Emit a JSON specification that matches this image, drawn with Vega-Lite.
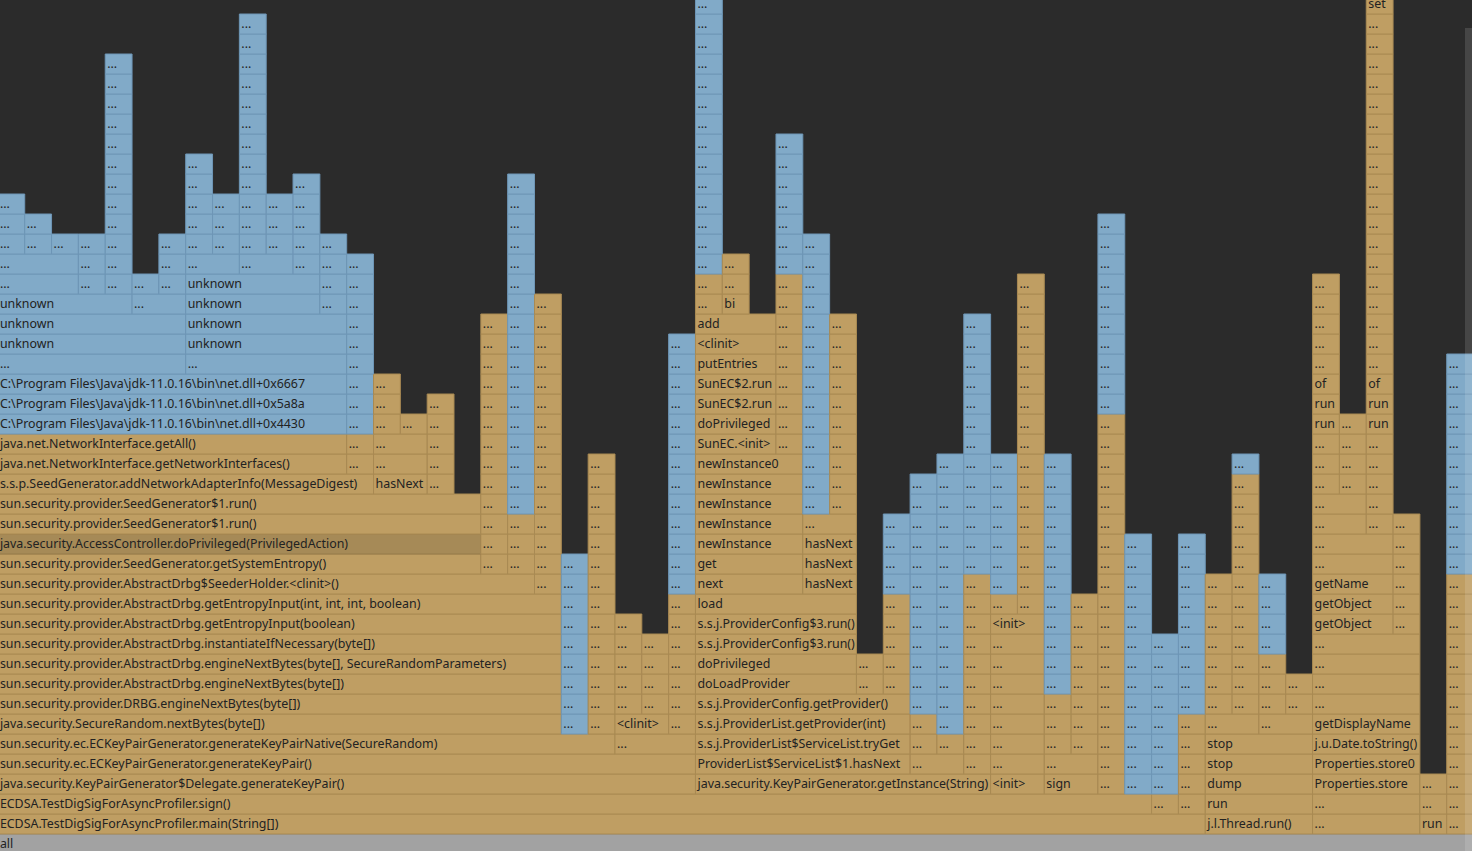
{
  "$schema": "https://vega.github.io/schema/vega-lite/v6.json",
  "width": 1472,
  "height": 851,
  "autosize": {"type": "none"},
  "padding": 0,
  "background": "#2b2b2b",
  "config": {"view": {"stroke": null}},
  "datasets": {
    "f": [
      {"l":0,"a":0,"b":55,"n":"all","t":"r"},
      {"l":1,"a":0,"b":45,"n":"ECDSA.TestDigSigForAsyncProfiler.main(String[])","t":"j"},
      {"l":1,"a":45,"b":49,"n":"j.l.Thread.run()","t":"j"},
      {"l":1,"a":49,"b":53,"n":"...","t":"j"},
      {"l":1,"a":53,"b":54,"n":"run","t":"j"},
      {"l":1,"a":54,"b":55,"n":"...","t":"j"},
      {"l":2,"a":0,"b":43,"n":"ECDSA.TestDigSigForAsyncProfiler.sign()","t":"j"},
      {"l":2,"a":43,"b":44,"n":"...","t":"j"},
      {"l":2,"a":44,"b":45,"n":"...","t":"j"},
      {"l":2,"a":45,"b":49,"n":"run","t":"j"},
      {"l":2,"a":49,"b":53,"n":"...","t":"j"},
      {"l":2,"a":53,"b":54,"n":"...","t":"j"},
      {"l":2,"a":54,"b":55,"n":"...","t":"j"},
      {"l":3,"a":0,"b":26,"n":"java.security.KeyPairGenerator$Delegate.generateKeyPair()","t":"j"},
      {"l":3,"a":26,"b":37,"n":"java.security.KeyPairGenerator.getInstance(String)","t":"j"},
      {"l":3,"a":37,"b":39,"n":"<init>","t":"j"},
      {"l":3,"a":39,"b":41,"n":"sign","t":"j"},
      {"l":3,"a":41,"b":42,"n":"...","t":"j"},
      {"l":3,"a":42,"b":43,"n":"...","t":"n"},
      {"l":3,"a":43,"b":44,"n":"...","t":"n"},
      {"l":3,"a":44,"b":45,"n":"...","t":"j"},
      {"l":3,"a":45,"b":49,"n":"dump","t":"j"},
      {"l":3,"a":49,"b":53,"n":"Properties.store","t":"j"},
      {"l":3,"a":53,"b":54,"n":"...","t":"j"},
      {"l":3,"a":54,"b":55,"n":"...","t":"j"},
      {"l":4,"a":0,"b":26,"n":"sun.security.ec.ECKeyPairGenerator.generateKeyPair()","t":"j"},
      {"l":4,"a":26,"b":34,"n":"ProviderList$ServiceList$1.hasNext","t":"j"},
      {"l":4,"a":34,"b":36,"n":"...","t":"j"},
      {"l":4,"a":36,"b":37,"n":"...","t":"j"},
      {"l":4,"a":37,"b":39,"n":"...","t":"j"},
      {"l":4,"a":39,"b":41,"n":"...","t":"j"},
      {"l":4,"a":41,"b":42,"n":"...","t":"j"},
      {"l":4,"a":42,"b":43,"n":"...","t":"n"},
      {"l":4,"a":43,"b":44,"n":"...","t":"n"},
      {"l":4,"a":44,"b":45,"n":"...","t":"j"},
      {"l":4,"a":45,"b":49,"n":"stop","t":"j"},
      {"l":4,"a":49,"b":53,"n":"Properties.store0","t":"j"},
      {"l":4,"a":54,"b":55,"n":"...","t":"j"},
      {"l":5,"a":0,"b":23,"n":"sun.security.ec.ECKeyPairGenerator.generateKeyPairNative(SecureRandom)","t":"j"},
      {"l":5,"a":23,"b":26,"n":"...","t":"j"},
      {"l":5,"a":26,"b":34,"n":"s.s.j.ProviderList$ServiceList.tryGet","t":"j"},
      {"l":5,"a":34,"b":35,"n":"...","t":"j"},
      {"l":5,"a":35,"b":36,"n":"...","t":"j"},
      {"l":5,"a":36,"b":37,"n":"...","t":"j"},
      {"l":5,"a":37,"b":39,"n":"...","t":"j"},
      {"l":5,"a":39,"b":40,"n":"...","t":"j"},
      {"l":5,"a":40,"b":41,"n":"...","t":"j"},
      {"l":5,"a":41,"b":42,"n":"...","t":"j"},
      {"l":5,"a":42,"b":43,"n":"...","t":"n"},
      {"l":5,"a":43,"b":44,"n":"...","t":"n"},
      {"l":5,"a":44,"b":45,"n":"...","t":"j"},
      {"l":5,"a":45,"b":49,"n":"stop","t":"j"},
      {"l":5,"a":49,"b":53,"n":"j.u.Date.toString()","t":"j"},
      {"l":5,"a":54,"b":55,"n":"...","t":"j"},
      {"l":6,"a":0,"b":21,"n":"java.security.SecureRandom.nextBytes(byte[])","t":"j"},
      {"l":6,"a":21,"b":22,"n":"...","t":"n"},
      {"l":6,"a":22,"b":23,"n":"...","t":"j"},
      {"l":6,"a":23,"b":25,"n":"<clinit>","t":"j"},
      {"l":6,"a":25,"b":26,"n":"...","t":"j"},
      {"l":6,"a":26,"b":34,"n":"s.s.j.ProviderList.getProvider(int)","t":"j"},
      {"l":6,"a":34,"b":35,"n":"...","t":"j"},
      {"l":6,"a":35,"b":36,"n":"...","t":"n"},
      {"l":6,"a":36,"b":37,"n":"...","t":"j"},
      {"l":6,"a":37,"b":39,"n":"...","t":"j"},
      {"l":6,"a":39,"b":40,"n":"...","t":"j"},
      {"l":6,"a":40,"b":41,"n":"...","t":"j"},
      {"l":6,"a":41,"b":42,"n":"...","t":"j"},
      {"l":6,"a":42,"b":43,"n":"...","t":"n"},
      {"l":6,"a":43,"b":44,"n":"...","t":"n"},
      {"l":6,"a":44,"b":45,"n":"...","t":"j"},
      {"l":6,"a":45,"b":47,"n":"...","t":"j"},
      {"l":6,"a":47,"b":49,"n":"...","t":"j"},
      {"l":6,"a":49,"b":53,"n":"getDisplayName","t":"j"},
      {"l":6,"a":54,"b":55,"n":"...","t":"j"},
      {"l":7,"a":0,"b":21,"n":"sun.security.provider.DRBG.engineNextBytes(byte[])","t":"j"},
      {"l":7,"a":21,"b":22,"n":"...","t":"n"},
      {"l":7,"a":22,"b":23,"n":"...","t":"j"},
      {"l":7,"a":23,"b":24,"n":"...","t":"j"},
      {"l":7,"a":24,"b":25,"n":"...","t":"j"},
      {"l":7,"a":25,"b":26,"n":"...","t":"j"},
      {"l":7,"a":26,"b":34,"n":"s.s.j.ProviderConfig.getProvider()","t":"j"},
      {"l":7,"a":34,"b":35,"n":"...","t":"n"},
      {"l":7,"a":35,"b":36,"n":"...","t":"n"},
      {"l":7,"a":36,"b":37,"n":"...","t":"j"},
      {"l":7,"a":37,"b":39,"n":"...","t":"j"},
      {"l":7,"a":39,"b":40,"n":"...","t":"j"},
      {"l":7,"a":40,"b":41,"n":"...","t":"j"},
      {"l":7,"a":41,"b":42,"n":"...","t":"j"},
      {"l":7,"a":42,"b":43,"n":"...","t":"n"},
      {"l":7,"a":43,"b":44,"n":"...","t":"n"},
      {"l":7,"a":44,"b":45,"n":"...","t":"n"},
      {"l":7,"a":45,"b":46,"n":"...","t":"j"},
      {"l":7,"a":46,"b":47,"n":"...","t":"j"},
      {"l":7,"a":47,"b":48,"n":"...","t":"j"},
      {"l":7,"a":48,"b":49,"n":"...","t":"j"},
      {"l":7,"a":49,"b":53,"n":"...","t":"j"},
      {"l":7,"a":54,"b":55,"n":"...","t":"j"},
      {"l":8,"a":0,"b":21,"n":"sun.security.provider.AbstractDrbg.engineNextBytes(byte[])","t":"j"},
      {"l":8,"a":21,"b":22,"n":"...","t":"n"},
      {"l":8,"a":22,"b":23,"n":"...","t":"j"},
      {"l":8,"a":23,"b":24,"n":"...","t":"j"},
      {"l":8,"a":24,"b":25,"n":"...","t":"j"},
      {"l":8,"a":25,"b":26,"n":"...","t":"j"},
      {"l":8,"a":26,"b":32,"n":"doLoadProvider","t":"j"},
      {"l":8,"a":32,"b":33,"n":"...","t":"j"},
      {"l":8,"a":33,"b":34,"n":"...","t":"j"},
      {"l":8,"a":34,"b":35,"n":"...","t":"n"},
      {"l":8,"a":35,"b":36,"n":"...","t":"n"},
      {"l":8,"a":36,"b":37,"n":"...","t":"j"},
      {"l":8,"a":37,"b":39,"n":"...","t":"j"},
      {"l":8,"a":39,"b":40,"n":"...","t":"n"},
      {"l":8,"a":40,"b":41,"n":"...","t":"j"},
      {"l":8,"a":41,"b":42,"n":"...","t":"j"},
      {"l":8,"a":42,"b":43,"n":"...","t":"n"},
      {"l":8,"a":43,"b":44,"n":"...","t":"n"},
      {"l":8,"a":44,"b":45,"n":"...","t":"n"},
      {"l":8,"a":45,"b":46,"n":"...","t":"j"},
      {"l":8,"a":46,"b":47,"n":"...","t":"j"},
      {"l":8,"a":47,"b":48,"n":"...","t":"j"},
      {"l":8,"a":48,"b":49,"n":"...","t":"j"},
      {"l":8,"a":49,"b":53,"n":"...","t":"j"},
      {"l":8,"a":54,"b":55,"n":"...","t":"j"},
      {"l":9,"a":0,"b":21,"n":"sun.security.provider.AbstractDrbg.engineNextBytes(byte[], SecureRandomParameters)","t":"j"},
      {"l":9,"a":21,"b":22,"n":"...","t":"n"},
      {"l":9,"a":22,"b":23,"n":"...","t":"j"},
      {"l":9,"a":23,"b":24,"n":"...","t":"j"},
      {"l":9,"a":24,"b":25,"n":"...","t":"j"},
      {"l":9,"a":25,"b":26,"n":"...","t":"j"},
      {"l":9,"a":26,"b":32,"n":"doPrivileged","t":"j"},
      {"l":9,"a":32,"b":33,"n":"...","t":"j"},
      {"l":9,"a":33,"b":34,"n":"...","t":"j"},
      {"l":9,"a":34,"b":35,"n":"...","t":"n"},
      {"l":9,"a":35,"b":36,"n":"...","t":"n"},
      {"l":9,"a":36,"b":37,"n":"...","t":"j"},
      {"l":9,"a":37,"b":39,"n":"...","t":"j"},
      {"l":9,"a":39,"b":40,"n":"...","t":"n"},
      {"l":9,"a":40,"b":41,"n":"...","t":"j"},
      {"l":9,"a":41,"b":42,"n":"...","t":"j"},
      {"l":9,"a":42,"b":43,"n":"...","t":"n"},
      {"l":9,"a":43,"b":44,"n":"...","t":"n"},
      {"l":9,"a":44,"b":45,"n":"...","t":"n"},
      {"l":9,"a":45,"b":46,"n":"...","t":"j"},
      {"l":9,"a":46,"b":47,"n":"...","t":"j"},
      {"l":9,"a":47,"b":48,"n":"...","t":"j"},
      {"l":9,"a":49,"b":53,"n":"...","t":"j"},
      {"l":9,"a":54,"b":55,"n":"...","t":"j"},
      {"l":10,"a":0,"b":21,"n":"sun.security.provider.AbstractDrbg.instantiateIfNecessary(byte[])","t":"j"},
      {"l":10,"a":21,"b":22,"n":"...","t":"n"},
      {"l":10,"a":22,"b":23,"n":"...","t":"j"},
      {"l":10,"a":23,"b":24,"n":"...","t":"j"},
      {"l":10,"a":24,"b":25,"n":"...","t":"j"},
      {"l":10,"a":25,"b":26,"n":"...","t":"j"},
      {"l":10,"a":26,"b":32,"n":"s.s.j.ProviderConfig$3.run()","t":"j"},
      {"l":10,"a":33,"b":34,"n":"...","t":"j"},
      {"l":10,"a":34,"b":35,"n":"...","t":"n"},
      {"l":10,"a":35,"b":36,"n":"...","t":"n"},
      {"l":10,"a":36,"b":37,"n":"...","t":"j"},
      {"l":10,"a":37,"b":39,"n":"...","t":"j"},
      {"l":10,"a":39,"b":40,"n":"...","t":"n"},
      {"l":10,"a":40,"b":41,"n":"...","t":"j"},
      {"l":10,"a":41,"b":42,"n":"...","t":"j"},
      {"l":10,"a":42,"b":43,"n":"...","t":"n"},
      {"l":10,"a":43,"b":44,"n":"...","t":"n"},
      {"l":10,"a":44,"b":45,"n":"...","t":"n"},
      {"l":10,"a":45,"b":46,"n":"...","t":"j"},
      {"l":10,"a":46,"b":47,"n":"...","t":"j"},
      {"l":10,"a":47,"b":48,"n":"...","t":"n"},
      {"l":10,"a":49,"b":53,"n":"...","t":"j"},
      {"l":10,"a":54,"b":55,"n":"...","t":"j"},
      {"l":11,"a":0,"b":21,"n":"sun.security.provider.AbstractDrbg.getEntropyInput(boolean)","t":"j"},
      {"l":11,"a":21,"b":22,"n":"...","t":"n"},
      {"l":11,"a":22,"b":23,"n":"...","t":"j"},
      {"l":11,"a":23,"b":24,"n":"...","t":"j"},
      {"l":11,"a":25,"b":26,"n":"...","t":"j"},
      {"l":11,"a":26,"b":32,"n":"s.s.j.ProviderConfig$3.run()","t":"j"},
      {"l":11,"a":33,"b":34,"n":"...","t":"j"},
      {"l":11,"a":34,"b":35,"n":"...","t":"n"},
      {"l":11,"a":35,"b":36,"n":"...","t":"n"},
      {"l":11,"a":36,"b":37,"n":"...","t":"j"},
      {"l":11,"a":37,"b":39,"n":"<init>","t":"j"},
      {"l":11,"a":39,"b":40,"n":"...","t":"n"},
      {"l":11,"a":40,"b":41,"n":"...","t":"j"},
      {"l":11,"a":41,"b":42,"n":"...","t":"j"},
      {"l":11,"a":42,"b":43,"n":"...","t":"n"},
      {"l":11,"a":44,"b":45,"n":"...","t":"n"},
      {"l":11,"a":45,"b":46,"n":"...","t":"j"},
      {"l":11,"a":46,"b":47,"n":"...","t":"j"},
      {"l":11,"a":47,"b":48,"n":"...","t":"n"},
      {"l":11,"a":49,"b":52,"n":"getObject","t":"j"},
      {"l":11,"a":52,"b":53,"n":"...","t":"j"},
      {"l":11,"a":54,"b":55,"n":"...","t":"j"},
      {"l":12,"a":0,"b":21,"n":"sun.security.provider.AbstractDrbg.getEntropyInput(int, int, int, boolean)","t":"j"},
      {"l":12,"a":21,"b":22,"n":"...","t":"n"},
      {"l":12,"a":22,"b":23,"n":"...","t":"j"},
      {"l":12,"a":25,"b":26,"n":"...","t":"j"},
      {"l":12,"a":26,"b":32,"n":"load","t":"j"},
      {"l":12,"a":33,"b":34,"n":"...","t":"j"},
      {"l":12,"a":34,"b":35,"n":"...","t":"n"},
      {"l":12,"a":35,"b":36,"n":"...","t":"n"},
      {"l":12,"a":36,"b":37,"n":"...","t":"j"},
      {"l":12,"a":37,"b":38,"n":"...","t":"j"},
      {"l":12,"a":38,"b":39,"n":"...","t":"j"},
      {"l":12,"a":39,"b":40,"n":"...","t":"n"},
      {"l":12,"a":40,"b":41,"n":"...","t":"j"},
      {"l":12,"a":41,"b":42,"n":"...","t":"j"},
      {"l":12,"a":42,"b":43,"n":"...","t":"n"},
      {"l":12,"a":44,"b":45,"n":"...","t":"n"},
      {"l":12,"a":45,"b":46,"n":"...","t":"j"},
      {"l":12,"a":46,"b":47,"n":"...","t":"j"},
      {"l":12,"a":47,"b":48,"n":"...","t":"n"},
      {"l":12,"a":49,"b":52,"n":"getObject","t":"j"},
      {"l":12,"a":52,"b":53,"n":"...","t":"j"},
      {"l":12,"a":54,"b":55,"n":"...","t":"j"},
      {"l":13,"a":0,"b":20,"n":"sun.security.provider.AbstractDrbg$SeederHolder.<clinit>()","t":"j"},
      {"l":13,"a":20,"b":21,"n":"...","t":"j"},
      {"l":13,"a":21,"b":22,"n":"...","t":"n"},
      {"l":13,"a":22,"b":23,"n":"...","t":"j"},
      {"l":13,"a":25,"b":26,"n":"...","t":"n"},
      {"l":13,"a":26,"b":30,"n":"next","t":"j"},
      {"l":13,"a":30,"b":32,"n":"hasNext","t":"j"},
      {"l":13,"a":33,"b":34,"n":"...","t":"n"},
      {"l":13,"a":34,"b":35,"n":"...","t":"n"},
      {"l":13,"a":35,"b":36,"n":"...","t":"n"},
      {"l":13,"a":36,"b":37,"n":"...","t":"j"},
      {"l":13,"a":37,"b":38,"n":"...","t":"n"},
      {"l":13,"a":38,"b":39,"n":"...","t":"j"},
      {"l":13,"a":39,"b":40,"n":"...","t":"n"},
      {"l":13,"a":41,"b":42,"n":"...","t":"j"},
      {"l":13,"a":42,"b":43,"n":"...","t":"n"},
      {"l":13,"a":44,"b":45,"n":"...","t":"n"},
      {"l":13,"a":45,"b":46,"n":"...","t":"j"},
      {"l":13,"a":46,"b":47,"n":"...","t":"j"},
      {"l":13,"a":47,"b":48,"n":"...","t":"n"},
      {"l":13,"a":49,"b":52,"n":"getName","t":"j"},
      {"l":13,"a":52,"b":53,"n":"...","t":"j"},
      {"l":13,"a":54,"b":55,"n":"...","t":"j"},
      {"l":14,"a":0,"b":18,"n":"sun.security.provider.SeedGenerator.getSystemEntropy()","t":"j"},
      {"l":14,"a":18,"b":19,"n":"...","t":"j"},
      {"l":14,"a":19,"b":20,"n":"...","t":"j"},
      {"l":14,"a":20,"b":21,"n":"...","t":"j"},
      {"l":14,"a":21,"b":22,"n":"...","t":"n"},
      {"l":14,"a":22,"b":23,"n":"...","t":"j"},
      {"l":14,"a":25,"b":26,"n":"...","t":"n"},
      {"l":14,"a":26,"b":30,"n":"get","t":"j"},
      {"l":14,"a":30,"b":32,"n":"hasNext","t":"j"},
      {"l":14,"a":33,"b":34,"n":"...","t":"n"},
      {"l":14,"a":34,"b":35,"n":"...","t":"n"},
      {"l":14,"a":35,"b":36,"n":"...","t":"n"},
      {"l":14,"a":36,"b":37,"n":"...","t":"n"},
      {"l":14,"a":37,"b":38,"n":"...","t":"n"},
      {"l":14,"a":38,"b":39,"n":"...","t":"j"},
      {"l":14,"a":39,"b":40,"n":"...","t":"n"},
      {"l":14,"a":41,"b":42,"n":"...","t":"j"},
      {"l":14,"a":42,"b":43,"n":"...","t":"n"},
      {"l":14,"a":44,"b":45,"n":"...","t":"n"},
      {"l":14,"a":46,"b":47,"n":"...","t":"j"},
      {"l":14,"a":49,"b":52,"n":"...","t":"j"},
      {"l":14,"a":52,"b":53,"n":"...","t":"j"},
      {"l":14,"a":54,"b":55,"n":"...","t":"n"},
      {"l":15,"a":0,"b":18,"n":"java.security.AccessController.doPrivileged(PrivilegedAction)","t":"h"},
      {"l":15,"a":18,"b":19,"n":"...","t":"j"},
      {"l":15,"a":19,"b":20,"n":"...","t":"j"},
      {"l":15,"a":20,"b":21,"n":"...","t":"j"},
      {"l":15,"a":22,"b":23,"n":"...","t":"j"},
      {"l":15,"a":25,"b":26,"n":"...","t":"n"},
      {"l":15,"a":26,"b":30,"n":"newInstance","t":"j"},
      {"l":15,"a":30,"b":32,"n":"hasNext","t":"j"},
      {"l":15,"a":33,"b":34,"n":"...","t":"n"},
      {"l":15,"a":34,"b":35,"n":"...","t":"n"},
      {"l":15,"a":35,"b":36,"n":"...","t":"n"},
      {"l":15,"a":36,"b":37,"n":"...","t":"n"},
      {"l":15,"a":37,"b":38,"n":"...","t":"n"},
      {"l":15,"a":38,"b":39,"n":"...","t":"j"},
      {"l":15,"a":39,"b":40,"n":"...","t":"n"},
      {"l":15,"a":41,"b":42,"n":"...","t":"j"},
      {"l":15,"a":42,"b":43,"n":"...","t":"n"},
      {"l":15,"a":44,"b":45,"n":"...","t":"n"},
      {"l":15,"a":46,"b":47,"n":"...","t":"j"},
      {"l":15,"a":49,"b":52,"n":"...","t":"j"},
      {"l":15,"a":52,"b":53,"n":"...","t":"j"},
      {"l":15,"a":54,"b":55,"n":"...","t":"n"},
      {"l":16,"a":0,"b":18,"n":"sun.security.provider.SeedGenerator$1.run()","t":"j"},
      {"l":16,"a":18,"b":19,"n":"...","t":"j"},
      {"l":16,"a":19,"b":20,"n":"...","t":"j"},
      {"l":16,"a":20,"b":21,"n":"...","t":"j"},
      {"l":16,"a":22,"b":23,"n":"...","t":"j"},
      {"l":16,"a":25,"b":26,"n":"...","t":"n"},
      {"l":16,"a":26,"b":30,"n":"newInstance","t":"j"},
      {"l":16,"a":30,"b":32,"n":"...","t":"j"},
      {"l":16,"a":33,"b":34,"n":"...","t":"n"},
      {"l":16,"a":34,"b":35,"n":"...","t":"n"},
      {"l":16,"a":35,"b":36,"n":"...","t":"n"},
      {"l":16,"a":36,"b":37,"n":"...","t":"n"},
      {"l":16,"a":37,"b":38,"n":"...","t":"n"},
      {"l":16,"a":38,"b":39,"n":"...","t":"j"},
      {"l":16,"a":39,"b":40,"n":"...","t":"n"},
      {"l":16,"a":41,"b":42,"n":"...","t":"j"},
      {"l":16,"a":46,"b":47,"n":"...","t":"j"},
      {"l":16,"a":49,"b":51,"n":"...","t":"j"},
      {"l":16,"a":51,"b":52,"n":"...","t":"j"},
      {"l":16,"a":52,"b":53,"n":"...","t":"j"},
      {"l":16,"a":54,"b":55,"n":"...","t":"n"},
      {"l":17,"a":0,"b":18,"n":"sun.security.provider.SeedGenerator$1.run()","t":"j"},
      {"l":17,"a":18,"b":19,"n":"...","t":"j"},
      {"l":17,"a":19,"b":20,"n":"...","t":"n"},
      {"l":17,"a":20,"b":21,"n":"...","t":"j"},
      {"l":17,"a":22,"b":23,"n":"...","t":"j"},
      {"l":17,"a":25,"b":26,"n":"...","t":"n"},
      {"l":17,"a":26,"b":30,"n":"newInstance","t":"j"},
      {"l":17,"a":30,"b":31,"n":"...","t":"n"},
      {"l":17,"a":31,"b":32,"n":"...","t":"j"},
      {"l":17,"a":34,"b":35,"n":"...","t":"n"},
      {"l":17,"a":35,"b":36,"n":"...","t":"n"},
      {"l":17,"a":36,"b":37,"n":"...","t":"n"},
      {"l":17,"a":37,"b":38,"n":"...","t":"n"},
      {"l":17,"a":38,"b":39,"n":"...","t":"j"},
      {"l":17,"a":39,"b":40,"n":"...","t":"n"},
      {"l":17,"a":41,"b":42,"n":"...","t":"j"},
      {"l":17,"a":46,"b":47,"n":"...","t":"j"},
      {"l":17,"a":49,"b":51,"n":"...","t":"j"},
      {"l":17,"a":51,"b":52,"n":"...","t":"j"},
      {"l":17,"a":54,"b":55,"n":"...","t":"n"},
      {"l":18,"a":0,"b":14,"n":"s.s.p.SeedGenerator.addNetworkAdapterInfo(MessageDigest)","t":"j"},
      {"l":18,"a":14,"b":16,"n":"hasNext","t":"j"},
      {"l":18,"a":16,"b":17,"n":"...","t":"j"},
      {"l":18,"a":18,"b":19,"n":"...","t":"j"},
      {"l":18,"a":19,"b":20,"n":"...","t":"n"},
      {"l":18,"a":20,"b":21,"n":"...","t":"j"},
      {"l":18,"a":22,"b":23,"n":"...","t":"j"},
      {"l":18,"a":25,"b":26,"n":"...","t":"n"},
      {"l":18,"a":26,"b":30,"n":"newInstance","t":"j"},
      {"l":18,"a":30,"b":31,"n":"...","t":"n"},
      {"l":18,"a":31,"b":32,"n":"...","t":"j"},
      {"l":18,"a":34,"b":35,"n":"...","t":"n"},
      {"l":18,"a":35,"b":36,"n":"...","t":"n"},
      {"l":18,"a":36,"b":37,"n":"...","t":"n"},
      {"l":18,"a":37,"b":38,"n":"...","t":"n"},
      {"l":18,"a":38,"b":39,"n":"...","t":"j"},
      {"l":18,"a":39,"b":40,"n":"...","t":"n"},
      {"l":18,"a":41,"b":42,"n":"...","t":"j"},
      {"l":18,"a":46,"b":47,"n":"...","t":"j"},
      {"l":18,"a":49,"b":50,"n":"...","t":"j"},
      {"l":18,"a":50,"b":51,"n":"...","t":"j"},
      {"l":18,"a":51,"b":52,"n":"...","t":"j"},
      {"l":18,"a":54,"b":55,"n":"...","t":"n"},
      {"l":19,"a":0,"b":13,"n":"java.net.NetworkInterface.getNetworkInterfaces()","t":"j"},
      {"l":19,"a":13,"b":14,"n":"...","t":"j"},
      {"l":19,"a":14,"b":16,"n":"...","t":"j"},
      {"l":19,"a":16,"b":17,"n":"...","t":"j"},
      {"l":19,"a":18,"b":19,"n":"...","t":"j"},
      {"l":19,"a":19,"b":20,"n":"...","t":"n"},
      {"l":19,"a":20,"b":21,"n":"...","t":"j"},
      {"l":19,"a":22,"b":23,"n":"...","t":"j"},
      {"l":19,"a":25,"b":26,"n":"...","t":"n"},
      {"l":19,"a":26,"b":30,"n":"newInstance0","t":"j"},
      {"l":19,"a":30,"b":31,"n":"...","t":"n"},
      {"l":19,"a":31,"b":32,"n":"...","t":"j"},
      {"l":19,"a":35,"b":36,"n":"...","t":"n"},
      {"l":19,"a":36,"b":37,"n":"...","t":"n"},
      {"l":19,"a":37,"b":38,"n":"...","t":"n"},
      {"l":19,"a":38,"b":39,"n":"...","t":"j"},
      {"l":19,"a":39,"b":40,"n":"...","t":"n"},
      {"l":19,"a":41,"b":42,"n":"...","t":"j"},
      {"l":19,"a":46,"b":47,"n":"...","t":"n"},
      {"l":19,"a":49,"b":50,"n":"...","t":"j"},
      {"l":19,"a":50,"b":51,"n":"...","t":"j"},
      {"l":19,"a":51,"b":52,"n":"...","t":"j"},
      {"l":19,"a":54,"b":55,"n":"...","t":"n"},
      {"l":20,"a":0,"b":13,"n":"java.net.NetworkInterface.getAll()","t":"j"},
      {"l":20,"a":13,"b":14,"n":"...","t":"j"},
      {"l":20,"a":14,"b":16,"n":"...","t":"j"},
      {"l":20,"a":16,"b":17,"n":"...","t":"j"},
      {"l":20,"a":18,"b":19,"n":"...","t":"j"},
      {"l":20,"a":19,"b":20,"n":"...","t":"n"},
      {"l":20,"a":20,"b":21,"n":"...","t":"j"},
      {"l":20,"a":25,"b":26,"n":"...","t":"n"},
      {"l":20,"a":26,"b":29,"n":"SunEC.<init>","t":"j"},
      {"l":20,"a":29,"b":30,"n":"...","t":"j"},
      {"l":20,"a":30,"b":31,"n":"...","t":"n"},
      {"l":20,"a":31,"b":32,"n":"...","t":"j"},
      {"l":20,"a":36,"b":37,"n":"...","t":"n"},
      {"l":20,"a":38,"b":39,"n":"...","t":"j"},
      {"l":20,"a":41,"b":42,"n":"...","t":"j"},
      {"l":20,"a":49,"b":50,"n":"...","t":"j"},
      {"l":20,"a":50,"b":51,"n":"...","t":"j"},
      {"l":20,"a":51,"b":52,"n":"...","t":"j"},
      {"l":20,"a":54,"b":55,"n":"...","t":"n"},
      {"l":21,"a":0,"b":13,"n":"C:\\Program Files\\Java\\jdk-11.0.16\\bin\\net.dll+0x4430","t":"n"},
      {"l":21,"a":13,"b":14,"n":"...","t":"n"},
      {"l":21,"a":14,"b":15,"n":"...","t":"j"},
      {"l":21,"a":15,"b":16,"n":"...","t":"j"},
      {"l":21,"a":16,"b":17,"n":"...","t":"j"},
      {"l":21,"a":18,"b":19,"n":"...","t":"j"},
      {"l":21,"a":19,"b":20,"n":"...","t":"n"},
      {"l":21,"a":20,"b":21,"n":"...","t":"j"},
      {"l":21,"a":25,"b":26,"n":"...","t":"n"},
      {"l":21,"a":26,"b":29,"n":"doPrivileged","t":"j"},
      {"l":21,"a":29,"b":30,"n":"...","t":"j"},
      {"l":21,"a":30,"b":31,"n":"...","t":"n"},
      {"l":21,"a":31,"b":32,"n":"...","t":"j"},
      {"l":21,"a":36,"b":37,"n":"...","t":"n"},
      {"l":21,"a":38,"b":39,"n":"...","t":"j"},
      {"l":21,"a":41,"b":42,"n":"...","t":"j"},
      {"l":21,"a":49,"b":50,"n":"run","t":"j"},
      {"l":21,"a":50,"b":51,"n":"...","t":"j"},
      {"l":21,"a":51,"b":52,"n":"run","t":"j"},
      {"l":21,"a":54,"b":55,"n":"...","t":"n"},
      {"l":22,"a":0,"b":13,"n":"C:\\Program Files\\Java\\jdk-11.0.16\\bin\\net.dll+0x5a8a","t":"n"},
      {"l":22,"a":13,"b":14,"n":"...","t":"n"},
      {"l":22,"a":14,"b":15,"n":"...","t":"j"},
      {"l":22,"a":16,"b":17,"n":"...","t":"j"},
      {"l":22,"a":18,"b":19,"n":"...","t":"j"},
      {"l":22,"a":19,"b":20,"n":"...","t":"n"},
      {"l":22,"a":20,"b":21,"n":"...","t":"j"},
      {"l":22,"a":25,"b":26,"n":"...","t":"n"},
      {"l":22,"a":26,"b":29,"n":"SunEC$2.run","t":"j"},
      {"l":22,"a":29,"b":30,"n":"...","t":"j"},
      {"l":22,"a":30,"b":31,"n":"...","t":"n"},
      {"l":22,"a":31,"b":32,"n":"...","t":"j"},
      {"l":22,"a":36,"b":37,"n":"...","t":"n"},
      {"l":22,"a":38,"b":39,"n":"...","t":"j"},
      {"l":22,"a":41,"b":42,"n":"...","t":"n"},
      {"l":22,"a":49,"b":50,"n":"run","t":"j"},
      {"l":22,"a":51,"b":52,"n":"run","t":"j"},
      {"l":22,"a":54,"b":55,"n":"...","t":"n"},
      {"l":23,"a":0,"b":13,"n":"C:\\Program Files\\Java\\jdk-11.0.16\\bin\\net.dll+0x6667","t":"n"},
      {"l":23,"a":13,"b":14,"n":"...","t":"n"},
      {"l":23,"a":14,"b":15,"n":"...","t":"j"},
      {"l":23,"a":18,"b":19,"n":"...","t":"j"},
      {"l":23,"a":19,"b":20,"n":"...","t":"n"},
      {"l":23,"a":20,"b":21,"n":"...","t":"j"},
      {"l":23,"a":25,"b":26,"n":"...","t":"n"},
      {"l":23,"a":26,"b":29,"n":"SunEC$2.run","t":"j"},
      {"l":23,"a":29,"b":30,"n":"...","t":"j"},
      {"l":23,"a":30,"b":31,"n":"...","t":"n"},
      {"l":23,"a":31,"b":32,"n":"...","t":"j"},
      {"l":23,"a":36,"b":37,"n":"...","t":"n"},
      {"l":23,"a":38,"b":39,"n":"...","t":"j"},
      {"l":23,"a":41,"b":42,"n":"...","t":"n"},
      {"l":23,"a":49,"b":50,"n":"of","t":"j"},
      {"l":23,"a":51,"b":52,"n":"of","t":"j"},
      {"l":23,"a":54,"b":55,"n":"...","t":"n"},
      {"l":24,"a":0,"b":7,"n":"...","t":"n"},
      {"l":24,"a":7,"b":13,"n":"...","t":"n"},
      {"l":24,"a":13,"b":14,"n":"...","t":"n"},
      {"l":24,"a":18,"b":19,"n":"...","t":"j"},
      {"l":24,"a":19,"b":20,"n":"...","t":"n"},
      {"l":24,"a":20,"b":21,"n":"...","t":"j"},
      {"l":24,"a":25,"b":26,"n":"...","t":"n"},
      {"l":24,"a":26,"b":29,"n":"putEntries","t":"j"},
      {"l":24,"a":29,"b":30,"n":"...","t":"j"},
      {"l":24,"a":30,"b":31,"n":"...","t":"n"},
      {"l":24,"a":31,"b":32,"n":"...","t":"j"},
      {"l":24,"a":36,"b":37,"n":"...","t":"n"},
      {"l":24,"a":38,"b":39,"n":"...","t":"j"},
      {"l":24,"a":41,"b":42,"n":"...","t":"n"},
      {"l":24,"a":49,"b":50,"n":"...","t":"j"},
      {"l":24,"a":51,"b":52,"n":"...","t":"j"},
      {"l":24,"a":54,"b":55,"n":"...","t":"n"},
      {"l":25,"a":0,"b":7,"n":"unknown","t":"n"},
      {"l":25,"a":7,"b":13,"n":"unknown","t":"n"},
      {"l":25,"a":13,"b":14,"n":"...","t":"n"},
      {"l":25,"a":18,"b":19,"n":"...","t":"j"},
      {"l":25,"a":19,"b":20,"n":"...","t":"n"},
      {"l":25,"a":20,"b":21,"n":"...","t":"j"},
      {"l":25,"a":25,"b":26,"n":"...","t":"n"},
      {"l":25,"a":26,"b":29,"n":"<clinit>","t":"j"},
      {"l":25,"a":29,"b":30,"n":"...","t":"j"},
      {"l":25,"a":30,"b":31,"n":"...","t":"n"},
      {"l":25,"a":31,"b":32,"n":"...","t":"j"},
      {"l":25,"a":36,"b":37,"n":"...","t":"n"},
      {"l":25,"a":38,"b":39,"n":"...","t":"j"},
      {"l":25,"a":41,"b":42,"n":"...","t":"n"},
      {"l":25,"a":49,"b":50,"n":"...","t":"j"},
      {"l":25,"a":51,"b":52,"n":"...","t":"j"},
      {"l":26,"a":0,"b":7,"n":"unknown","t":"n"},
      {"l":26,"a":7,"b":13,"n":"unknown","t":"n"},
      {"l":26,"a":13,"b":14,"n":"...","t":"n"},
      {"l":26,"a":18,"b":19,"n":"...","t":"j"},
      {"l":26,"a":19,"b":20,"n":"...","t":"n"},
      {"l":26,"a":20,"b":21,"n":"...","t":"j"},
      {"l":26,"a":26,"b":29,"n":"add","t":"j"},
      {"l":26,"a":29,"b":30,"n":"...","t":"j"},
      {"l":26,"a":30,"b":31,"n":"...","t":"n"},
      {"l":26,"a":31,"b":32,"n":"...","t":"j"},
      {"l":26,"a":36,"b":37,"n":"...","t":"n"},
      {"l":26,"a":38,"b":39,"n":"...","t":"j"},
      {"l":26,"a":41,"b":42,"n":"...","t":"n"},
      {"l":26,"a":49,"b":50,"n":"...","t":"j"},
      {"l":26,"a":51,"b":52,"n":"...","t":"j"},
      {"l":27,"a":0,"b":5,"n":"unknown","t":"n"},
      {"l":27,"a":5,"b":7,"n":"...","t":"n"},
      {"l":27,"a":7,"b":12,"n":"unknown","t":"n"},
      {"l":27,"a":12,"b":13,"n":"...","t":"n"},
      {"l":27,"a":13,"b":14,"n":"...","t":"n"},
      {"l":27,"a":19,"b":20,"n":"...","t":"n"},
      {"l":27,"a":20,"b":21,"n":"...","t":"j"},
      {"l":27,"a":26,"b":27,"n":"...","t":"j"},
      {"l":27,"a":27,"b":28,"n":"bi","t":"j"},
      {"l":27,"a":29,"b":30,"n":"...","t":"j"},
      {"l":27,"a":30,"b":31,"n":"...","t":"n"},
      {"l":27,"a":38,"b":39,"n":"...","t":"j"},
      {"l":27,"a":41,"b":42,"n":"...","t":"n"},
      {"l":27,"a":49,"b":50,"n":"...","t":"j"},
      {"l":27,"a":51,"b":52,"n":"...","t":"j"},
      {"l":28,"a":0,"b":3,"n":"...","t":"n"},
      {"l":28,"a":3,"b":4,"n":"...","t":"n"},
      {"l":28,"a":4,"b":5,"n":"...","t":"n"},
      {"l":28,"a":5,"b":6,"n":"...","t":"n"},
      {"l":28,"a":6,"b":7,"n":"...","t":"n"},
      {"l":28,"a":7,"b":12,"n":"unknown","t":"n"},
      {"l":28,"a":12,"b":13,"n":"...","t":"n"},
      {"l":28,"a":13,"b":14,"n":"...","t":"n"},
      {"l":28,"a":19,"b":20,"n":"...","t":"n"},
      {"l":28,"a":26,"b":27,"n":"...","t":"j"},
      {"l":28,"a":27,"b":28,"n":"...","t":"j"},
      {"l":28,"a":29,"b":30,"n":"...","t":"j"},
      {"l":28,"a":30,"b":31,"n":"...","t":"n"},
      {"l":28,"a":38,"b":39,"n":"...","t":"j"},
      {"l":28,"a":41,"b":42,"n":"...","t":"n"},
      {"l":28,"a":49,"b":50,"n":"...","t":"j"},
      {"l":28,"a":51,"b":52,"n":"...","t":"j"},
      {"l":29,"a":0,"b":3,"n":"...","t":"n"},
      {"l":29,"a":3,"b":4,"n":"...","t":"n"},
      {"l":29,"a":4,"b":5,"n":"...","t":"n"},
      {"l":29,"a":6,"b":7,"n":"...","t":"n"},
      {"l":29,"a":7,"b":9,"n":"...","t":"n"},
      {"l":29,"a":9,"b":11,"n":"...","t":"n"},
      {"l":29,"a":11,"b":12,"n":"...","t":"n"},
      {"l":29,"a":12,"b":13,"n":"...","t":"n"},
      {"l":29,"a":13,"b":14,"n":"...","t":"n"},
      {"l":29,"a":19,"b":20,"n":"...","t":"n"},
      {"l":29,"a":26,"b":27,"n":"...","t":"n"},
      {"l":29,"a":27,"b":28,"n":"...","t":"j"},
      {"l":29,"a":29,"b":30,"n":"...","t":"n"},
      {"l":29,"a":30,"b":31,"n":"...","t":"n"},
      {"l":29,"a":41,"b":42,"n":"...","t":"n"},
      {"l":29,"a":51,"b":52,"n":"...","t":"j"},
      {"l":30,"a":0,"b":1,"n":"...","t":"n"},
      {"l":30,"a":1,"b":2,"n":"...","t":"n"},
      {"l":30,"a":2,"b":3,"n":"...","t":"n"},
      {"l":30,"a":3,"b":4,"n":"...","t":"n"},
      {"l":30,"a":4,"b":5,"n":"...","t":"n"},
      {"l":30,"a":6,"b":7,"n":"...","t":"n"},
      {"l":30,"a":7,"b":8,"n":"...","t":"n"},
      {"l":30,"a":8,"b":9,"n":"...","t":"n"},
      {"l":30,"a":9,"b":10,"n":"...","t":"n"},
      {"l":30,"a":10,"b":11,"n":"...","t":"n"},
      {"l":30,"a":11,"b":12,"n":"...","t":"n"},
      {"l":30,"a":12,"b":13,"n":"...","t":"n"},
      {"l":30,"a":19,"b":20,"n":"...","t":"n"},
      {"l":30,"a":26,"b":27,"n":"...","t":"n"},
      {"l":30,"a":29,"b":30,"n":"...","t":"n"},
      {"l":30,"a":30,"b":31,"n":"...","t":"n"},
      {"l":30,"a":41,"b":42,"n":"...","t":"n"},
      {"l":30,"a":51,"b":52,"n":"...","t":"j"},
      {"l":31,"a":0,"b":1,"n":"...","t":"n"},
      {"l":31,"a":1,"b":2,"n":"...","t":"n"},
      {"l":31,"a":4,"b":5,"n":"...","t":"n"},
      {"l":31,"a":7,"b":8,"n":"...","t":"n"},
      {"l":31,"a":8,"b":9,"n":"...","t":"n"},
      {"l":31,"a":9,"b":10,"n":"...","t":"n"},
      {"l":31,"a":10,"b":11,"n":"...","t":"n"},
      {"l":31,"a":11,"b":12,"n":"...","t":"n"},
      {"l":31,"a":19,"b":20,"n":"...","t":"n"},
      {"l":31,"a":26,"b":27,"n":"...","t":"n"},
      {"l":31,"a":29,"b":30,"n":"...","t":"n"},
      {"l":31,"a":41,"b":42,"n":"...","t":"n"},
      {"l":31,"a":51,"b":52,"n":"...","t":"j"},
      {"l":32,"a":0,"b":1,"n":"...","t":"n"},
      {"l":32,"a":4,"b":5,"n":"...","t":"n"},
      {"l":32,"a":7,"b":8,"n":"...","t":"n"},
      {"l":32,"a":8,"b":9,"n":"...","t":"n"},
      {"l":32,"a":9,"b":10,"n":"...","t":"n"},
      {"l":32,"a":10,"b":11,"n":"...","t":"n"},
      {"l":32,"a":11,"b":12,"n":"...","t":"n"},
      {"l":32,"a":19,"b":20,"n":"...","t":"n"},
      {"l":32,"a":26,"b":27,"n":"...","t":"n"},
      {"l":32,"a":29,"b":30,"n":"...","t":"n"},
      {"l":32,"a":51,"b":52,"n":"...","t":"j"},
      {"l":33,"a":4,"b":5,"n":"...","t":"n"},
      {"l":33,"a":7,"b":8,"n":"...","t":"n"},
      {"l":33,"a":9,"b":10,"n":"...","t":"n"},
      {"l":33,"a":11,"b":12,"n":"...","t":"n"},
      {"l":33,"a":19,"b":20,"n":"...","t":"n"},
      {"l":33,"a":26,"b":27,"n":"...","t":"n"},
      {"l":33,"a":29,"b":30,"n":"...","t":"n"},
      {"l":33,"a":51,"b":52,"n":"...","t":"j"},
      {"l":34,"a":4,"b":5,"n":"...","t":"n"},
      {"l":34,"a":7,"b":8,"n":"...","t":"n"},
      {"l":34,"a":9,"b":10,"n":"...","t":"n"},
      {"l":34,"a":26,"b":27,"n":"...","t":"n"},
      {"l":34,"a":29,"b":30,"n":"...","t":"n"},
      {"l":34,"a":51,"b":52,"n":"...","t":"j"},
      {"l":35,"a":4,"b":5,"n":"...","t":"n"},
      {"l":35,"a":9,"b":10,"n":"...","t":"n"},
      {"l":35,"a":26,"b":27,"n":"...","t":"n"},
      {"l":35,"a":29,"b":30,"n":"...","t":"n"},
      {"l":35,"a":51,"b":52,"n":"...","t":"j"},
      {"l":36,"a":4,"b":5,"n":"...","t":"n"},
      {"l":36,"a":9,"b":10,"n":"...","t":"n"},
      {"l":36,"a":26,"b":27,"n":"...","t":"n"},
      {"l":36,"a":51,"b":52,"n":"...","t":"j"},
      {"l":37,"a":4,"b":5,"n":"...","t":"n"},
      {"l":37,"a":9,"b":10,"n":"...","t":"n"},
      {"l":37,"a":26,"b":27,"n":"...","t":"n"},
      {"l":37,"a":51,"b":52,"n":"...","t":"j"},
      {"l":38,"a":4,"b":5,"n":"...","t":"n"},
      {"l":38,"a":9,"b":10,"n":"...","t":"n"},
      {"l":38,"a":26,"b":27,"n":"...","t":"n"},
      {"l":38,"a":51,"b":52,"n":"...","t":"j"},
      {"l":39,"a":4,"b":5,"n":"...","t":"n"},
      {"l":39,"a":9,"b":10,"n":"...","t":"n"},
      {"l":39,"a":26,"b":27,"n":"...","t":"n"},
      {"l":39,"a":51,"b":52,"n":"...","t":"j"},
      {"l":40,"a":9,"b":10,"n":"...","t":"n"},
      {"l":40,"a":26,"b":27,"n":"...","t":"n"},
      {"l":40,"a":51,"b":52,"n":"...","t":"j"},
      {"l":41,"a":9,"b":10,"n":"...","t":"n"},
      {"l":41,"a":26,"b":27,"n":"...","t":"n"},
      {"l":41,"a":51,"b":52,"n":"...","t":"j"},
      {"l":42,"a":26,"b":27,"n":"...","t":"n"},
      {"l":42,"a":51,"b":52,"n":"set","t":"j"}
    ],
    "sb": [{"a": 54.68, "b": 55, "y0": 0.15, "y1": 41.3}]
  },
  "resolve": {"scale": {"y": "independent"}},
  "layer": [
    {
      "data": {"name": "f"},
      "mark": {"type": "rect", "strokeWidth": 1},
      "encoding": {
        "x": {"field": "a", "type": "quantitative", "scale": {"domain": [0.0783, 54.942], "nice": false, "zero": false}, "axis": null},
        "x2": {"field": "b"},
        "y": {"field": "l", "type": "ordinal", "scale": {"domain": [42,41,40,39,38,37,36,35,34,33,32,31,30,29,28,27,26,25,24,23,22,21,20,19,18,17,16,15,14,13,12,11,10,9,8,7,6,5,4,3,2,1,0], "range": [-6, 854], "paddingInner": 0, "paddingOuter": 0}, "axis": null},
        "fill": {"field": "t", "type": "nominal", "scale": {"domain": ["j","n","h","r"], "range": ["#bf9e63","#81aac8","#a68a57","#a2a2a2"]}, "legend": null},
        "stroke": {"field": "t", "type": "nominal", "scale": {"domain": ["j","n","h","r"], "range": ["#a98a53","#6e96b6","#957a4b","#8e8e8e"]}, "legend": null}
      }
    },
    {
      "data": {"name": "f"},
      "mark": {"type": "text", "align": "left", "baseline": "middle", "dx": 2, "dy": 0, "font": "Noto Sans", "fontSize": 12.4, "color": "#222222", "limit": {"expr": "(datum.b - datum.a) * 26.83 - 3"}},
      "encoding": {
        "x": {"field": "a", "type": "quantitative", "scale": {"domain": [0.0783, 54.942], "nice": false, "zero": false}, "axis": null},
        "y": {"field": "l", "type": "ordinal", "scale": {"domain": [42,41,40,39,38,37,36,35,34,33,32,31,30,29,28,27,26,25,24,23,22,21,20,19,18,17,16,15,14,13,12,11,10,9,8,7,6,5,4,3,2,1,0], "range": [-6, 854], "paddingInner": 0, "paddingOuter": 0}, "axis": null},
        "text": {"field": "n"}
      }
    },
    {
      "data": {"name": "sb"},
      "mark": {"type": "rect", "fill": "#ffffff", "opacity": 0.13},
      "encoding": {
        "x": {"field": "a", "type": "quantitative", "scale": {"domain": [0.0783, 54.942], "nice": false, "zero": false}, "axis": null},
        "x2": {"field": "b"},
        "y": {"field": "y0", "type": "quantitative", "scale": {"domain": [0.15, 42.7], "nice": false, "zero": false}, "axis": null},
        "y2": {"field": "y1"}
      }
    }
  ]
}
